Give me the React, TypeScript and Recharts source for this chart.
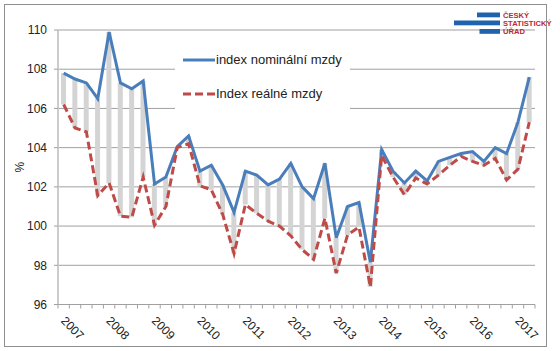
import React from 'react';
import { ComposedChart, Line, Bar, XAxis, YAxis, CartesianGrid, Legend } from 'recharts';

const years = ['2007', '2008', '2009', '2010', '2011', '2012', '2013', '2014', '2015', '2016', '2017'];

const nominal = [
  107.8, 107.5, 107.3, 106.5,
  109.9, 107.3, 107.0, 107.4,
  102.15, 102.5, 104.05, 104.6,
  102.8, 103.1, 102.1, 100.7,
  102.8, 102.6, 102.1, 102.4,
  103.2, 102.0, 101.4, 103.2,
  99.4, 101.0, 101.2, 98.15,
  103.9, 102.8, 102.2, 102.8,
  102.3, 103.3, 103.5, 103.7,
  103.8, 103.3, 104.0, 103.7,
  105.3, 107.6,
];

const real = [
  106.2, 105.0, 104.8, 101.55,
  102.2, 100.5, 100.45, 102.5,
  100.05, 101.0, 104.0, 104.2,
  102.05, 101.85, 100.6, 98.6,
  101.1, 100.65, 100.25, 100.0,
  99.5, 98.8, 98.3, 100.4,
  97.6, 99.55, 99.95, 96.9,
  103.6, 102.5, 101.6, 102.45,
  102.15, 102.6, 103.1, 103.55,
  103.3, 103.1, 103.45, 102.35,
  102.9, 105.3,
];

const yTicks = [96, 98, 100, 102, 104, 106, 108, 110];

const seriesNames = ['index nominální mzdy', 'Index reálné mzdy'];

const data = nominal.map((v, i) => ({
  q: `${years[Math.floor(i / 4)]} Q${(i % 4) + 1}`,
  nom: v,
  real: real[i],
}));

const W = 560;
const H = 351;
const LEFT = 58;
const RIGHT = 25;
const BW = (W - LEFT - RIGHT) / data.length;
const FONT = '"Liberation Sans", Arial, sans-serif';
const BLUE = '#4a7ebb';
const RED = '#be4b48';
const GRID = '#a0a0a0';

const XTick = (props: any) => {
  const { x, y, payload } = props;
  const i = payload.index;
  const half = BW / 2;
  const label = i % 4 === 0 ? years[i / 4] : null;
  const lx = x - 3.5;
  const ly = y + 17;
  return (
    <g>
      <line x1={x - half} x2={x - half} y1={y} y2={y + 4} stroke={GRID} />
      {i === data.length - 1 && <line x1={x + half} x2={x + half} y1={y} y2={y + 4} stroke={GRID} />}
      {label && (
        <text x={lx} y={ly} transform={`rotate(45, ${lx}, ${ly})`} textAnchor="start" fontSize={12} fill="#222">
          {label}
        </text>
      )}
    </g>
  );
};

const LegendBox = () => (
  <div style={{ width: 175, height: 75, background: '#fff' }}>
    <svg width={175} height={75} style={{ display: 'block' }}>
      <line x1={8} x2={40} y1={20} y2={20} stroke={BLUE} strokeWidth={3} />
      <text x={41} y={24} fontSize={13} fill="#222" fontFamily={FONT}>{seriesNames[0]}</text>
      <line x1={8} x2={40} y1={54} y2={54} stroke={RED} strokeWidth={3} strokeDasharray="8 4" />
      <text x={41} y={58} fontSize={13} fill="#222" fontFamily={FONT}>{seriesNames[1]}</text>
    </svg>
  </div>
);

const PctLabel = (props: any) => {
  const vb = props.viewBox || { y: 30, height: 275 };
  const cy = vb.y + vb.height / 2;
  return (
    <text x={24} y={cy} transform={`rotate(-90, 24, ${cy})`} textAnchor="middle" fontSize={12} fill="#222">
      %
    </text>
  );
};

export default function App() {
  return (
    <div style={{ position: 'absolute', left: 0, top: 0, width: W, height: H, background: '#fff', fontFamily: FONT }}>
      <ComposedChart
        width={W}
        height={H}
        data={data}
        margin={{ top: 30, right: RIGHT, bottom: 6.5, left: 0 }}
        barCategoryGap={0}
      >
        <CartesianGrid vertical={false} stroke={GRID} />
        <XAxis
          dataKey="q"
          height={40}
          interval={0}
          tickLine={false}
          tickSize={0}
          tickMargin={0}
          axisLine={{ stroke: GRID }}
          tick={<XTick />}
        />
        <YAxis
          width={LEFT}
          domain={[96, 110]}
          ticks={yTicks}
          interval={0}
          tickSize={4}
          tickMargin={7}
          tickLine={{ stroke: GRID }}
          axisLine={{ stroke: '#cccccc', strokeWidth: 2 }}
          tick={{ fontSize: 12, fill: '#222' }}
          label={<PctLabel />}
        />
        <Legend
          layout="horizontal"
          verticalAlign="middle"
          align="center"
          wrapperStyle={{ position: 'absolute', left: 175, top: 40, width: 175, height: 75 }}
          content={() => <LegendBox />}
        />
        <Bar dataKey={(d: any) => [d.real, d.nom]} fill="#d4d4d4" barSize={5} isAnimationActive={false} legendType="none" />
        <Line dataKey="nom" stroke={BLUE} strokeWidth={3} dot={false} isAnimationActive={false} />
        <Line dataKey="real" stroke={RED} strokeWidth={3} strokeDasharray="8 4" dot={false} isAnimationActive={false} />
      </ComposedChart>
      <div
        style={{
          position: 'absolute',
          left: 4,
          top: 4,
          width: 543,
          height: 343,
          boxSizing: 'border-box',
          border: '1.5px solid #8f8f8f',
          pointerEvents: 'none',
        }}
      />
      <svg width={W} height={H} style={{ position: 'absolute', left: 0, top: 0, pointerEvents: 'none' }}>
        <rect x={477} y={12.5} width={23} height={4.8} fill="#1f62ad" />
        <rect x={454} y={20.5} width={46} height={4.8} fill="#1f62ad" />
        <rect x={479.5} y={29} width={20.5} height={4.8} fill="#1f62ad" />
        <g fontSize={7.6} fontWeight="bold" fill="#c3262f" fontFamily={FONT}>
          <text x={503} y={17.5}>ČESKÝ</text>
          <text x={503} y={26}>STATISTICKÝ</text>
          <text x={503} y={34.3}>ÚŘAD</text>
        </g>
      </svg>
    </div>
  );
}
